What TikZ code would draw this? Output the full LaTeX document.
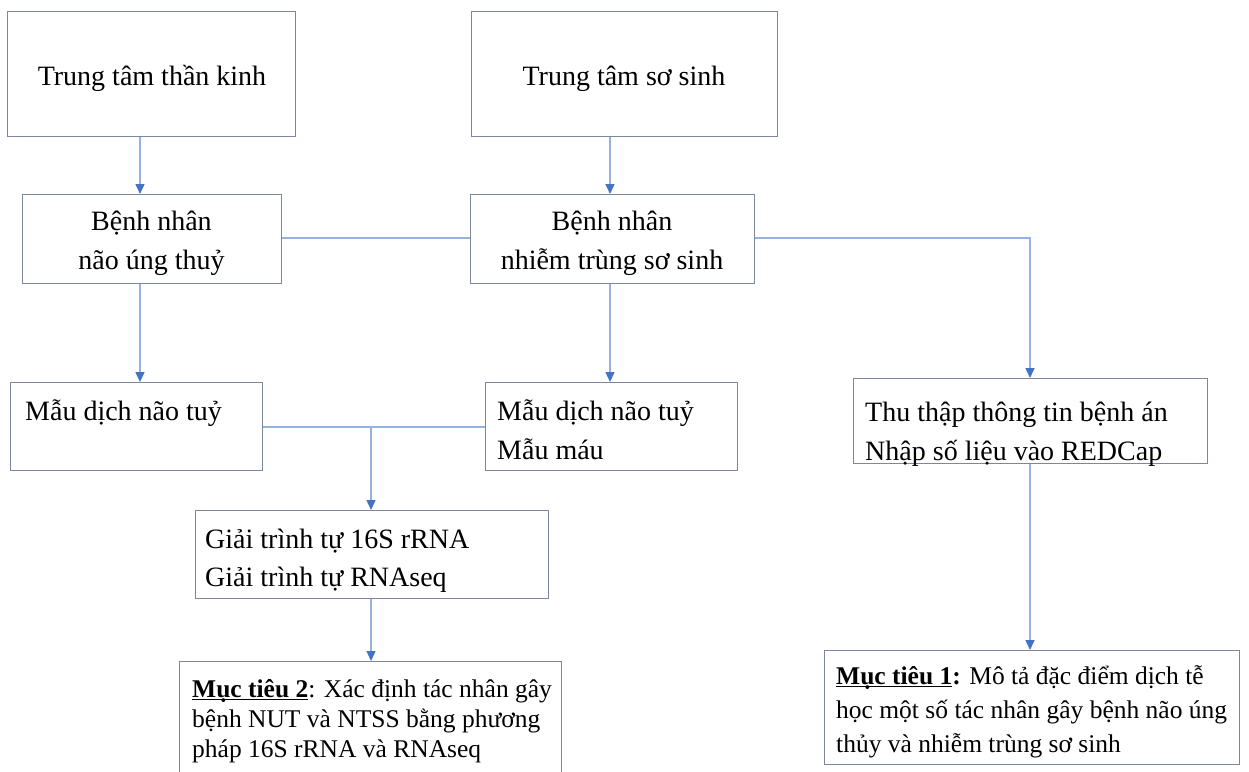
\documentclass[tikz,border=0pt]{standalone}
\usepackage{fontspec}
\setmainfont{Liberation Serif}
\usetikzlibrary{arrows.meta,calc}
\definecolor{boxcol}{RGB}{125,135,155}
\definecolor{linecol}{RGB}{150,178,225}
\definecolor{tipcol}{RGB}{68,114,196}
\newcommand\myul[1]{\setbox0\hbox{#1}\rlap{\rule[-3pt]{\wd0}{1.2pt}}\box0}
\tikzset{
 box/.style={draw=boxcol, line width=1.4pt, inner sep=0pt, anchor=north west},
 big/.style={font=\fontsize{28}{39}\selectfont},
 bigh/.style={font=\fontsize{28}{38}\selectfont},
 smalli/.style={font=\fontsize{25.5}{30}\selectfont},
 smallg/.style={font=\fontsize{25.5}{34}\selectfont},
 conn/.style={draw=linecol, line width=1.4pt},
 arr/.style={conn, -{Triangle[length=10pt,width=9pt,color=tipcol]}},
 txt/.style={inner sep=0pt, anchor=north west, align=left},
 ctxt/.style={inner sep=0pt, anchor=north, align=center},
}
\begin{document}
\begin{tikzpicture}[x=1pt,y=-1pt]
\useasboundingbox (0,0) rectangle (1249,771);
% boxes
\node[box, minimum width=288pt, minimum height=125pt] (A) at (7,11) {};
\node[ctxt, big] (At) at (152,57.7) {\strut Trung tâm thần kinh};
\node[box, minimum width=306pt, minimum height=125pt] (B) at (471,11) {};
\node[ctxt, big] (Bt) at (624,57.7) {\strut Trung tâm sơ sinh};
\node[box, minimum width=259pt, minimum height=89pt] (C) at (22,194) {};
\node[ctxt, big] (Ct) at (151.5,202.7) {\strut Bệnh nhân\\não úng thuỷ};
\node[box, minimum width=284pt, minimum height=89pt] (D) at (470,194) {};
\node[ctxt, big] (Dt) at (612,202.7) {\strut Bệnh nhân\\nhiễm trùng sơ sinh};
\node[box, minimum width=252pt, minimum height=88pt] (E1) at (10,382) {};
\node[txt, big] (E1t) at (25,392.7) {\strut Mẫu dịch não tuỷ};
\node[box, minimum width=252pt, minimum height=88pt] (E2) at (485,382) {};
\node[txt, big] (E2t) at (497,392.7) {\strut Mẫu dịch não tuỷ\\Mẫu máu};
\node[box, minimum width=354pt, minimum height=85pt] (F) at (853,378) {};
\node[txt, big] (Ft) at (865,393.7) {\strut Thu thập thông tin bệnh án\\Nhập số liệu vào REDCap};
\node[box, minimum width=353pt, minimum height=88pt] (H) at (195,510) {};
\node[txt, bigh] (Ht) at (205,521.4) {\strut Giải trình tự 16S rRNA\\Giải trình tự RNAseq};
\node[box, minimum width=382pt, minimum height=130pt] (I) at (179,661) {};
\node[txt, smalli] (It) at (192,676) {\strut\textbf{\myul{Mục tiêu 2}}: Xác định tác nhân gây\\bệnh NUT và NTSS bằng phương\\pháp 16S rRNA và RNAseq};
\node[box, minimum width=415pt, minimum height=114pt] (G) at (824,650) {};
\node[txt, smallg] (Gt) at (836,660) {\strut\textbf{\myul{Mục tiêu 1}:} Mô tả đặc điểm dịch tễ\\học một số tác nhân gây bệnh não úng\\thủy và nhiễm trùng sơ sinh};
% connectors
\coordinate (xa) at (140,0);
\coordinate (xb) at (610,0);
\coordinate (xf) at (1030,0);
\coordinate (y1) at (0,238);
\coordinate (y2) at (0,427);
\coordinate (j) at (371,427);
\draw[arr] (A.south -| xa) -- (C.north -| xa);
\draw[arr] (C.south -| xa) -- (E1.north -| xa);
\draw[arr] (B.south -| xb) -- (D.north -| xb);
\draw[arr] (D.south -| xb) -- (E2.north -| xb);
\draw[conn] (C.east |- y1) -- (D.west |- y1);
\draw[arr] (D.east |- y1) -| (F.north -| xf);
\draw[arr] (F.south -| xf) -- (G.north -| xf);
\draw[conn] (E1.east |- y2) -- (E2.west |- y2);
\draw[arr] (j) -- (H.north -| j);
\draw[arr] (H.south -| j) -- (I.north -| j);
\end{tikzpicture}
\end{document}
